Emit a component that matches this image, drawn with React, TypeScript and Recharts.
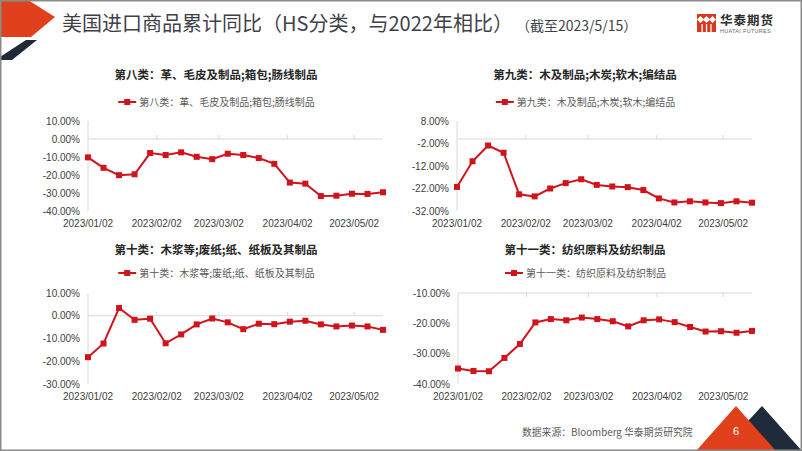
import React from 'react';
import { LineChart, Line, XAxis, YAxis, ReferenceLine } from 'recharts';

const RED = '#D0141C';
const AXIS = '#D9D9D9';
const CJK = '"Noto Sans CJK SC", "Noto Sans", sans-serif';
const NUM = '"Liberation Sans", Arial, sans-serif';

// weekly observations
const dates = [
    '2023/01/02', '2023/01/09', '2023/01/16', '2023/01/23', '2023/01/30',
    '2023/02/06', '2023/02/13', '2023/02/20', '2023/02/27', '2023/03/06',
    '2023/03/13', '2023/03/20', '2023/03/27', '2023/04/03', '2023/04/10',
    '2023/04/17', '2023/04/24', '2023/05/01', '2023/05/08', '2023/05/15',
];
const xTickDates = ['2023/01/02', '2023/02/02', '2023/03/02', '2023/04/02', '2023/05/02'];

const cls8 = [-10.2, -16.0, -20.1, -19.6, -7.8, -8.9, -7.4, -9.9, -11.2, -8.2, -8.9, -10.6, -13.8, -24.2, -24.8, -31.7, -31.5, -30.4, -30.5, -29.6];
const cls9 = [-21.3, -9.9, -2.9, -6.1, -24.6, -25.5, -22.0, -19.6, -17.9, -20.4, -21.1, -21.4, -22.7, -26.4, -28.2, -27.7, -28.2, -28.5, -27.7, -28.3];
const cls10 = [-18.2, -12.2, 3.4, -1.8, -1.3, -12.1, -8.2, -3.8, -1.2, -2.9, -5.9, -3.5, -3.7, -2.6, -2.2, -3.8, -4.7, -4.3, -4.7, -6.2];
const cls11 = [-34.9, -35.7, -35.8, -31.4, -26.8, -19.7, -18.6, -19.0, -18.1, -18.6, -19.3, -21.0, -19.0, -18.7, -19.6, -21.2, -22.7, -22.6, -23.1, -22.5];

const ticks8 = [-40, -30, -20, -10, 0, 10];
const ticks9 = [-32, -22, -12, -2, 8];
const ticks10 = [-30, -20, -10, 0, 10];
const ticks11 = [-40, -30, -20, -10];

const DAY = 86400000;
const t0 = Date.parse(dates[0].replace(/\//g, '-'));
const toDay = (s: string) => Math.round((Date.parse(s.replace(/\//g, '-')) - t0) / DAY);
const xTicks = xTickDates.map(toDay);
const xEnd = toDay(dates[dates.length - 1]);

const Square = (props: any) => {
    const { cx, cy, index } = props;
    if (cx == null || cy == null) return <g key={`n-${index}`} />;
    return <rect key={`s-${index}`} x={cx - 3} y={cy - 3} width={6} height={6} fill={RED} />;
};

type MiniProps = {
    title: string;
    name: string;
    values: number[];
    ticks: number[];
    axisAt: number;
    tickUp: boolean;
    plotLeft: number;
    plotTop: number;
    plotW: number;
    plotH: number;
    centerX: number;
    titleY: number;
    legendY: number;
};

const YW = 60;
const MT = 5;
const MR = 6;
const XH = 24;

const MiniChart = ({ title, name, values, ticks, axisAt, tickUp, plotLeft, plotTop, plotW, plotH, centerX, titleY, legendY }: MiniProps) => {
    const data = dates.map((d, i) => ({ d: toDay(d), v: values[i] }));
    const lo = ticks[0];
    const hi = ticks[ticks.length - 1];
    const perPx = (hi - lo) / plotH;
    const markLen = 4 * perPx * (tickUp ? 1 : -1);
    return (
        <>
            <div style={{ position: 'absolute', left: centerX, top: titleY - 9, transform: 'translateX(-50%)', whiteSpace: 'nowrap', fontFamily: CJK, fontWeight: 700, fontSize: 11.5, lineHeight: '18px', color: '#262626' }}>
                {title}
            </div>
            <div style={{ position: 'absolute', left: centerX, top: legendY - 8, transform: 'translateX(-50%)', whiteSpace: 'nowrap', display: 'flex', alignItems: 'center', fontFamily: CJK, fontSize: 10, lineHeight: '16px', color: '#595959' }}>
                <svg width={20} height={8} style={{ marginRight: 2 }}>
                    <line x1={1} y1={4} x2={19} y2={4} stroke={RED} strokeWidth={2} />
                    <rect x={7} y={1} width={6} height={6} fill={RED} />
                </svg>
                {name}
            </div>
            <div style={{ position: 'absolute', left: plotLeft - YW, top: plotTop - MT }}>
                <LineChart width={YW + plotW + MR} height={MT + plotH + XH} data={data} margin={{ top: MT, right: MR, bottom: 0, left: 0 }}>
                    <XAxis
                        dataKey="d"
                        type="number"
                        domain={[0, xEnd]}
                        ticks={xTicks}
                        tickFormatter={(v) => xTickDates[xTicks.indexOf(v)] ?? ''}
                        axisLine={false}
                        tickLine={false}
                        tickSize={0}
                        tickMargin={9}
                        height={XH}
                        interval={0}
                        tick={{ fontFamily: NUM, fontSize: 10, fill: '#404040' }}
                    />
                    <YAxis
                        type="number"
                        domain={[lo, hi]}
                        ticks={ticks}
                        interval={0}
                        width={YW}
                        axisLine={{ stroke: AXIS }}
                        tickLine={false}
                        tickSize={0}
                        tickMargin={8}
                        tickFormatter={(v) => `${Number(v).toFixed(2)}%`}
                        tick={{ fontFamily: NUM, fontSize: 10, fill: '#404040' }}
                    />
                    <ReferenceLine y={axisAt} stroke={AXIS} strokeWidth={1} />
                    {xTicks.slice(1).map((t) => (
                        <ReferenceLine
                            key={`m-${t}`}
                            segment={[{ x: t, y: axisAt }, { x: t, y: axisAt + markLen }]}
                            stroke={AXIS}
                            strokeWidth={1}
                            ifOverflow="visible"
                        />
                    ))}
                    <Line
                        type="linear"
                        dataKey="v"
                        stroke={RED}
                        strokeWidth={2}
                        dot={Square}
                        activeDot={false}
                        isAnimationActive={false}
                    />
                </LineChart>
            </div>
        </>
    );
};

const Logo = () => (
    <div style={{ position: 'absolute', left: 697, top: 14 }}>
        <svg width={19} height={18}>
            <rect x={0} y={0} width={19} height={18} fill="#D9381E" />
            <path d="M3.5 2 L7 5.5 L3.5 9 L0 5.5 Z M9.5 2 L13 5.5 L9.5 9 L6 5.5 Z M15.5 2 L19 5.5 L15.5 9 L12 5.5 Z" fill="#fff" />
            <rect x={4.5} y={10} width={1.3} height={8} fill="#fff" />
            <rect x={8.9} y={10} width={1.3} height={8} fill="#fff" />
            <rect x={13.3} y={10} width={1.3} height={8} fill="#fff" />
        </svg>
        <div style={{ position: 'absolute', left: 23, top: -1, whiteSpace: 'nowrap', fontFamily: CJK, fontWeight: 700, fontSize: 12.5, lineHeight: '14px', letterSpacing: 1, color: '#2E2E2E' }}>华泰期货</div>
        <div style={{ position: 'absolute', left: 23, top: 13.5, whiteSpace: 'nowrap', fontFamily: NUM, fontSize: 5.5, lineHeight: '6px', letterSpacing: 0.3, color: '#666' }}>HUATAI FUTURES</div>
    </div>
);

export default function App() {
    return (
        <div style={{ position: 'absolute', left: 0, top: 0, width: 802, height: 451, background: '#fff', overflow: 'hidden' }}>
            <svg width={802} height={451} style={{ position: 'absolute', left: 0, top: 0 }}>
                <polygon points="0,0 28,0 55,17 31,37 0,37" fill="#E0401C" />
                <polygon points="26,40 37,40 12,60 0,60 0,57" fill="#1F2937" />
                <polygon points="720,451 762,406 802,451" fill="#1F2A3A" />
                <polygon points="696,451 736,406 776,451" fill="#E0401C" />
                <rect x={0.75} y={0.75} width={800.5} height={449.5} fill="none" stroke="#8A8A8A" strokeWidth={1.5} />
            </svg>
            <div style={{ position: 'absolute', left: 62, top: 9, whiteSpace: 'nowrap', fontFamily: CJK, fontSize: 20, lineHeight: '28px', color: '#3F3F4A' }}>
                美国进口商品累计同比（HS分类，与2022年相比）
                <span style={{ fontSize: 14, marginLeft: 10 }}>（截至2023/5/15）</span>
            </div>
            <Logo />

            <MiniChart title="第八类：革、毛皮及制品;箱包;肠线制品" name="第八类：革、毛皮及制品;箱包;肠线制品"
                values={cls8} ticks={ticks8} axisAt={0} tickUp
                plotLeft={88} plotTop={121} plotW={295} plotH={90} centerX={216} titleY={74} legendY={102} />
            <MiniChart title="第九类：木及制品;木炭;软木;编结品" name="第九类：木及制品;木炭;软木;编结品"
                values={cls9} ticks={ticks9} axisAt={0} tickUp
                plotLeft={457} plotTop={121} plotW={295} plotH={90} centerX={585} titleY={74} legendY={102} />
            <MiniChart title="第十类：木浆等;废纸;纸、纸板及其制品" name="第十类：木浆等;废纸;纸、纸板及其制品"
                values={cls10} ticks={ticks10} axisAt={0} tickUp
                plotLeft={88} plotTop={293} plotW={295} plotH={91} centerX={216} titleY={249} legendY={273} />
            <MiniChart title="第十一类：纺织原料及纺织制品" name="第十一类：纺织原料及纺织制品"
                values={cls11} ticks={ticks11} axisAt={-10} tickUp={false}
                plotLeft={458} plotTop={293} plotW={294} plotH={91} centerX={585} titleY={249} legendY={273} />

            <div style={{ position: 'absolute', left: 522, top: 424, whiteSpace: 'nowrap', fontFamily: CJK, fontSize: 9.8, lineHeight: '16px', color: '#595959' }}>
                数据来源：Bloomberg 华泰期货研究院
            </div>
            <div style={{ position: 'absolute', left: 733, top: 423, fontFamily: NUM, fontSize: 11, lineHeight: '16px', color: '#fff' }}>6</div>
        </div>
    );
}
